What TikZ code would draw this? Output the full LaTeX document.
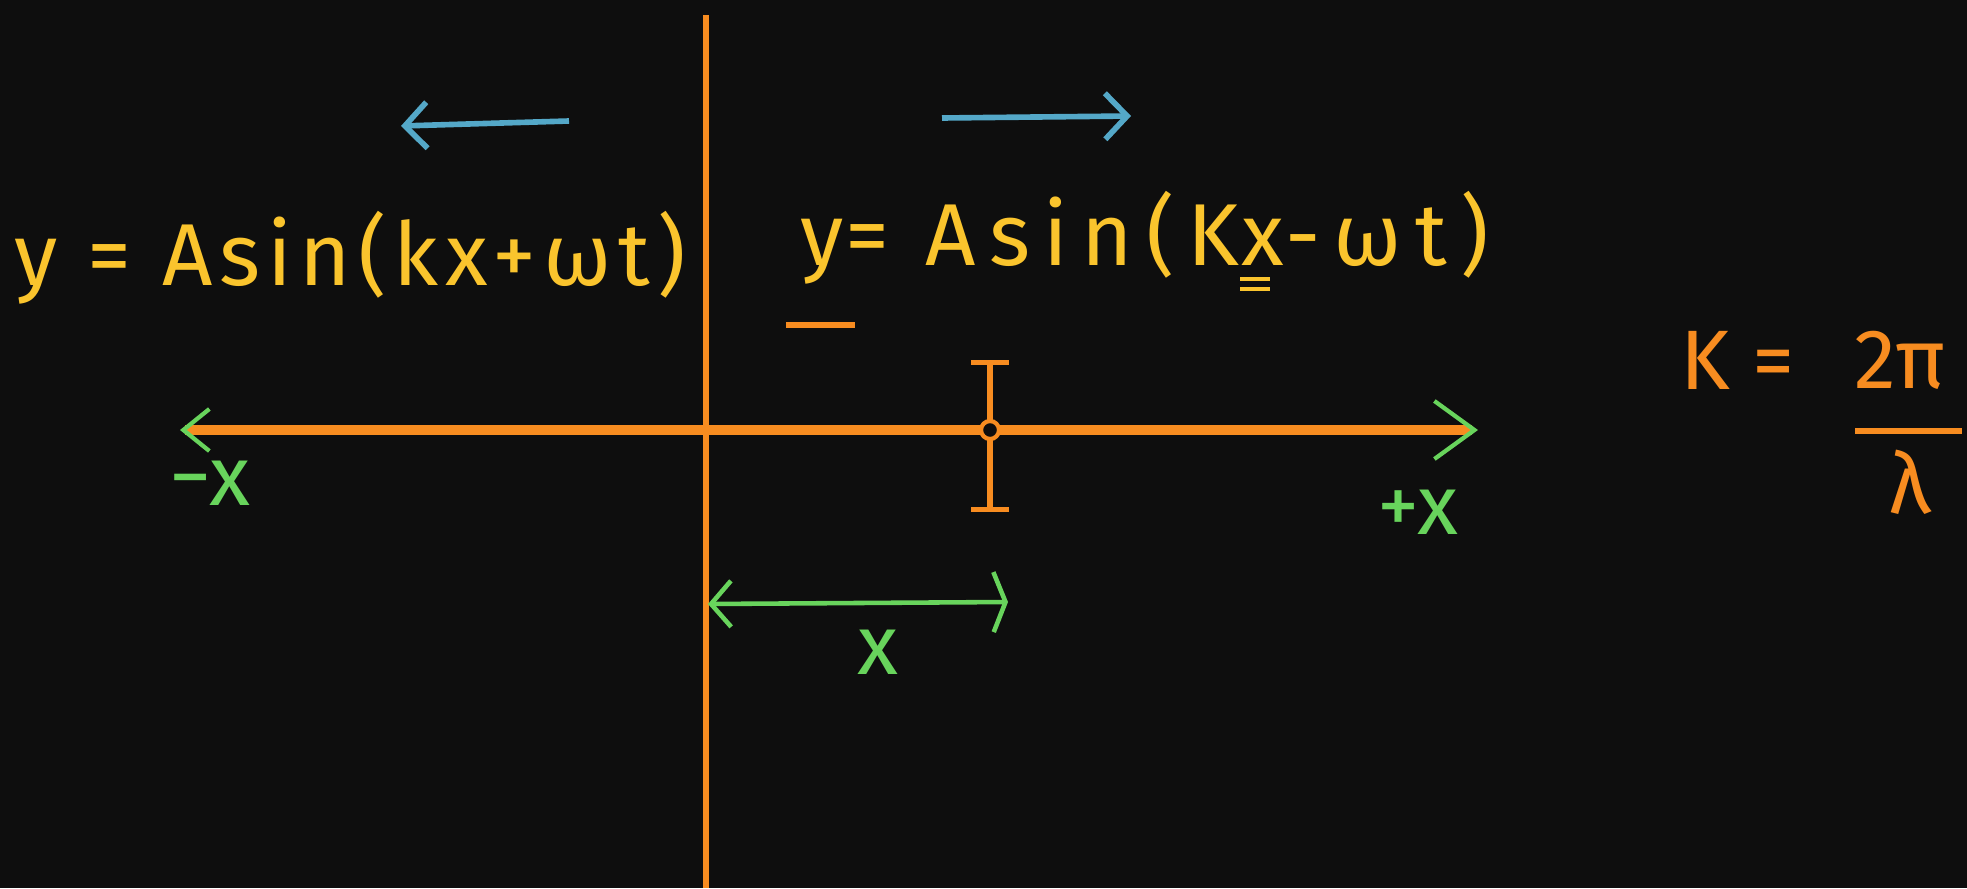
\documentclass[tikz,border=0pt]{standalone}
\usepackage{fontspec}
\setmainfont{Fira Sans}
\newfontfamily\leftfont[LetterSpace=8]{Fira Sans}
\newfontfamily\rightfont[LetterSpace=15]{Fira Sans}
\usepackage{tikz}
\usetikzlibrary{arrows.meta}

\definecolor{board}{RGB}{14,14,14}
\definecolor{axisorange}{RGB}{247,140,32}
\definecolor{eqyellow}{RGB}{250,196,45}
\definecolor{markgreen}{RGB}{104,212,92}
\definecolor{dirblue}{RGB}{84,168,200}

\begin{document}
\begin{tikzpicture}[
  x=0.01cm, y=-0.01cm,
  eq/.style={text=eqyellow, inner sep=0pt, anchor=base},
  req/.style={eq, anchor=base west, font=\rightfont\fontsize{25}{30}\selectfont},
  lbl/.style={text=markgreen, font=\fontsize{24}{28}\selectfont, inner sep=0pt},
  kval/.style={text=axisorange, font=\fontsize{24}{28}\selectfont, inner sep=0pt},
  axisline/.style={axisorange, line width=2.6pt},
  dirarr/.style={dirblue, line width=1.6pt, -{Straight Barb[length=2.2mm,width=4.6mm]}},
  distarr/.style={markgreen, line width=1.3pt, {Straight Barb[length=2mm,width=4.6mm]}-{Straight Barb[length=1.2mm,width=6mm]}}
]
\useasboundingbox (0,0) rectangle (1967,888);
\fill[board] (0,0) rectangle (1967,888);

% axes
\coordinate (top) at (706,15);
\coordinate (bot) at (706,888);
\coordinate (xl) at (180,430);
\coordinate (xr) at (1478,430);
\draw[axisorange, line width=1.5pt] (top) -- (bot);
\draw[axisline, {Straight Barb[color=markgreen, line width=1.2pt, length=2.6mm, width=4.2mm]}-{Straight Barb[color=markgreen, line width=1.2pt, length=4mm, width=5.8mm]}] (xl) -- (xr);

% particle at x
\coordinate (P) at (990,430);
\coordinate (Ptop) at (990,360);
\coordinate (Pbot) at (990,512);
\draw[axisorange, line width=1.5pt, {Bar[width=3.8mm]}-{Bar[width=3.8mm]}] (Ptop) -- (Pbot);
\draw[axisorange, line width=1.2pt, fill=board] (P) circle (9);

% distance x
\coordinate (d0) at (708,604);
\coordinate (d1) at (1008,602);
\draw[distarr] (d0) -- (d1);
\node[lbl] (xd) at (878,652) {x};

\node[lbl] (mx) at (210,483) {−x};
\node[lbl] (px) at (1418,512) {+x};

% directions of travel
\coordinate (bl0) at (569,121);
\coordinate (bl1) at (401,126);
\coordinate (br0) at (942,118);
\coordinate (br1) at (1131,116);
\draw[dirarr] (bl0) -- (bl1);
\draw[dirarr] (br0) -- (br1);

% wave equations
\node[eq, font=\leftfont\fontsize{25}{30}\selectfont] (eqleft) at (350,285) {y = Asin(kx+ωt)};

\node[req] (ry) at (800,265) {y};
\node[req] (rmid) at (ry.base east) {= Asin(K};
\node[req] (rx) at (rmid.base east) {x};
\node[req] (rend) at (rx.base east) {-ωt)};
\draw[axisorange, line width=1.7pt] (786,325) -- (855,325);
\draw[eqyellow, line width=1.2pt] ([yshift=-4pt]rx.base west) -- ([yshift=-4pt,xshift=-4pt]rx.base east);
\draw[eqyellow, line width=1.2pt] ([yshift=-6.8pt]rx.base west) -- ([yshift=-6.8pt,xshift=-4pt]rx.base east);

% wave number
\node[kval] (kk) at (1738,360) {K =};
\node[kval] (num) at (1900,360) {2π};
\node[kval] (lam) at (1910,482) {λ};
\draw[axisorange, line width=1.6pt] (1855,431) -- (1962,431);
\end{tikzpicture}
\end{document}
